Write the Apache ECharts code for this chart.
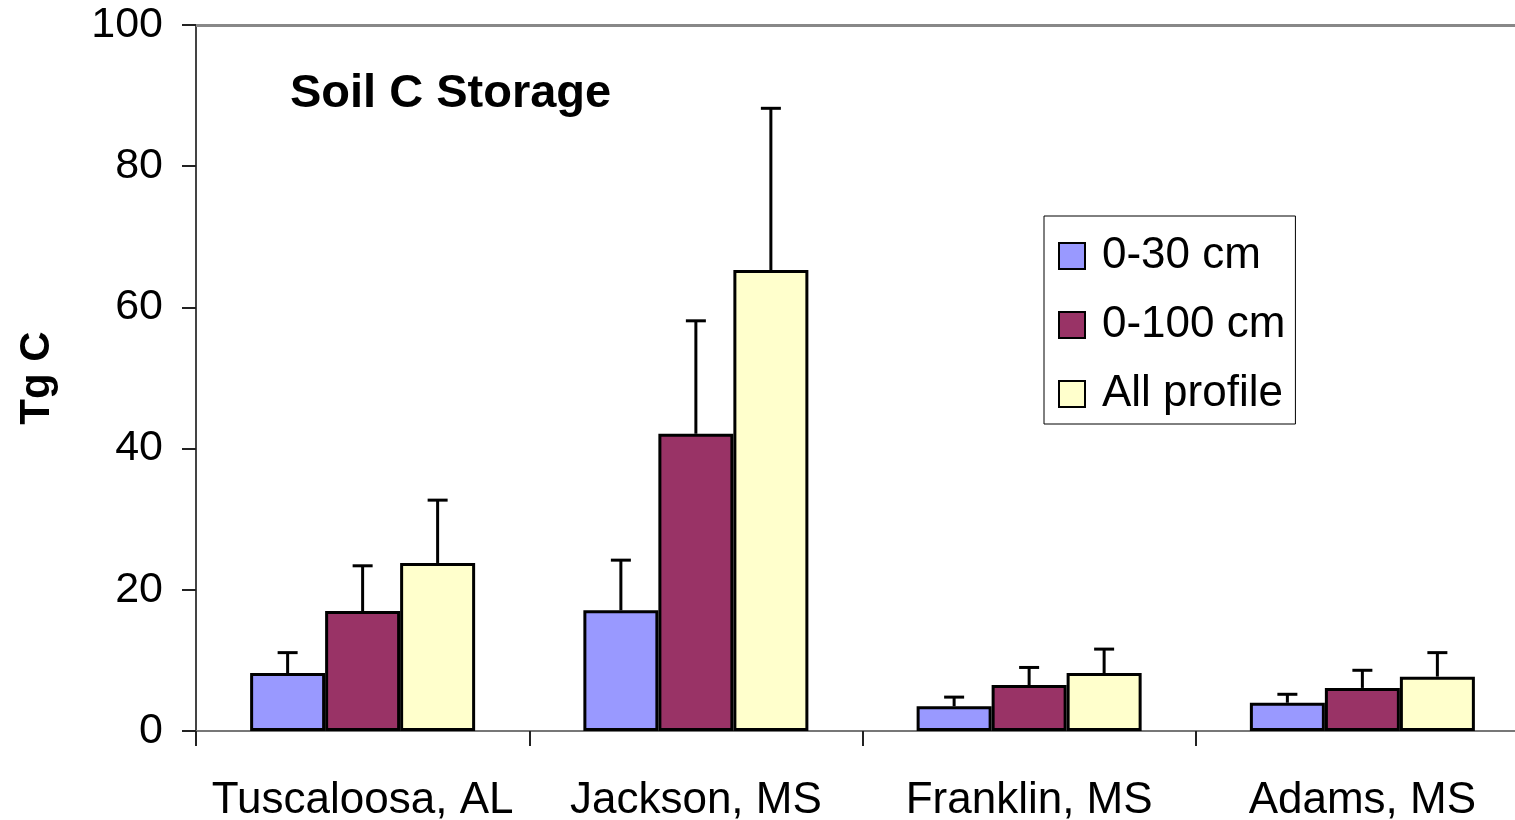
<!DOCTYPE html>
<html><head><meta charset="utf-8">
<script src="https://cdn.jsdelivr.net/npm/echarts@6/dist/echarts.min.js"></script>
<style>html,body{margin:0;padding:0;background:#fff}#c{width:1515px;height:820px}</style>
</head><body><div id="c"></div>
<script>
const categories = ['Tuscaloosa, AL', 'Jackson, MS', 'Franklin, MS', 'Adams, MS'];
const seriesNames = ['0-30 cm', '0-100 cm', 'All profile'];
const v030 = [8.2, 17.1, 3.5, 4.0];
const v0100 = [17.0, 42.1, 6.5, 6.1];
const vAll = [23.8, 65.3, 8.2, 7.7];
const err030Top = [11.1, 24.2, 4.8, 5.2];
const err0100Top = [23.4, 58.1, 9.0, 8.6];
const errAllTop = [32.7, 88.2, 11.6, 11.1];
const yTicks = [0, 20, 40, 60, 80, 100];

const colors = ['#9999FF', '#993366', '#FFFFCC'];
const FONT = "'Liberation Sans', Arial, sans-serif";
const BAR_W = 75;
const values = [v030, v0100, vAll];
const tops = [err030Top, err0100Top, errAllTop];

const chart = echarts.init(document.getElementById('c'));
const series = [];
values.forEach((vals, i) => {
  const s = {
    name: seriesNames[i], type: 'bar', data: vals,
    barWidth: BAR_W, barGap: '0%',
    itemStyle: { color: colors[i], borderColor: '#000', borderWidth: 3 },
    z: 2
  };
  if (i === 0) {
    s.markLine = { silent: true, symbol: 'none', label: { show: false },
      lineStyle: { color: '#888', width: 3, type: 'solid' },
      data: [{ yAxis: yTicks[yTicks.length - 1] }] };
  }
  series.push(s);
});
values.forEach((vals, i) => {
  series.push({
    type: 'custom', name: 'err' + i, z: 5, silent: true,
    data: vals.map((v, k) => [k, v, tops[i][k]]),
    encode: { x: 0, y: [1, 2] },
    renderItem: function (params, api) {
      const off = (i - 1) * BAR_W;
      const p0 = api.coord([api.value(0), api.value(1)]);
      const p1 = api.coord([api.value(0), api.value(2)]);
      const x = p0[0] + off;
      const st = { stroke: '#000', lineWidth: 3 };
      return { type: 'group', children: [
        { type: 'line', shape: { x1: x, y1: p0[1], x2: x, y2: p1[1] }, style: st },
        { type: 'line', shape: { x1: x - 10, y1: p1[1], x2: x + 10, y2: p1[1] }, style: st }
      ]};
    }
  });
});

chart.setOption({
  animation: false,
  backgroundColor: '#fff',
  title: { text: 'Soil C Storage', left: 285, top: 66,
    textStyle: { fontFamily: FONT, fontWeight: 'bold', fontSize: 47, color: '#000' } },
  legend: {
    data: seriesNames, orient: 'vertical', left: 1044, top: 216,
    padding: [18, 10, 8, 14], itemGap: 25,
    backgroundColor: '#fff', borderColor: '#000', borderWidth: 1,
    itemWidth: 26, itemHeight: 26, icon: 'rect',
    itemStyle: { borderColor: '#000', borderWidth: 2 },
    textStyle: { fontFamily: FONT, fontSize: 44, color: '#000', lineHeight: 44, padding: [0, 0, 0, 12] }
  },
  grid: { left: 196, top: 25, width: 1333, bottom: 89, containLabel: false, outerBoundsMode: 'none' },
  xAxis: {
    type: 'category', data: categories,
    axisLine: { lineStyle: { color: '#777', width: 2 } },
    axisTick: { show: true, interval: 0, length: 15, lineStyle: { color: '#222', width: 2 } },
    axisLabel: { interval: 0, fontFamily: FONT, fontSize: 44, color: '#000', margin: 48 }
  },
  yAxis: {
    type: 'value', min: 0, max: 100, interval: 20,
    name: 'Tg C', nameLocation: 'middle', nameGap: 138, nameRotate: 90,
    nameTextStyle: { fontFamily: FONT, fontWeight: 'bold', fontSize: 42, color: '#000' },
    axisLine: { show: true, lineStyle: { color: '#444', width: 2 } },
    axisTick: { show: true, length: 14, lineStyle: { color: '#222', width: 2 } },
    splitLine: { show: false },
    axisLabel: { fontFamily: FONT, fontSize: 43, color: '#000', margin: 33 }
  },
  series: series
});
</script></body></html>
